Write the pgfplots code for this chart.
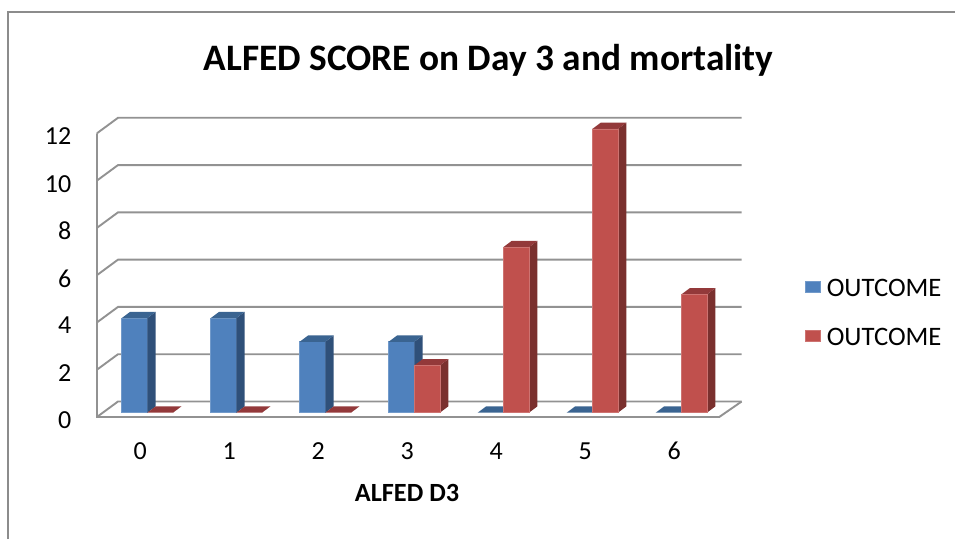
\documentclass[border=0pt]{standalone}
\usepackage{fontspec}
\setmainfont{Carlito}
\usepackage{pgfplots}
\pgfplotsset{compat=1.18}

\definecolor{blueF}{HTML}{4F81BD}
\definecolor{blueS}{HTML}{2F5079}
\definecolor{blueT}{HTML}{3A6491}
\definecolor{redF}{HTML}{C0504D}
\definecolor{redS}{HTML}{7A302E}
\definecolor{redT}{HTML}{93393A}
\definecolor{gridC}{HTML}{929292}
\definecolor{frameC}{HTML}{8C8C8C}

\def\pxu{0.75pt}

% back wall line with its return along the left wall
\newcommand\wallline[1]{%
  \pgfmathsetmacro\yf{#1-0.18}%
  \pgfmathsetmacro\yb{#1+0.474}%
  \addplot[forget plot,no marks,gridC,line width=1.9*\pxu]
    coordinates {(-0.565,\yf) (-0.329,\yb) (6.678,\yb)};
}
% side and top faces of one bar; #1 left edge, #2 value, #3 side, #4 top
\newcommand\barfaces[4]{%
  \pgfmathsetmacro\xr{#1+0.2876}%
  \pgfmathsetmacro\xa{#1+0.0944}%
  \pgfmathsetmacro\xb{#1+0.2876+0.0944}%
  \pgfmathsetmacro\yt{#2+0.2665}%
  \addplot[forget plot,no marks,draw=none,fill=#3]
    coordinates {(\xr,0) (\xb,0.2665) (\xb,\yt) (\xr,#2)} -- cycle;
  \addplot[forget plot,no marks,draw=none,fill=#4]
    coordinates {(#1,#2) (\xa,\yt) (\xb,\yt) (\xr,#2)} -- cycle;
}

\begin{document}
\begin{tikzpicture}
\path[use as bounding box] (-97*\pxu,-126.3*\pxu) rectangle (858*\pxu,412.7*\pxu);
% outer chart frame, open at the bottom and right
\draw[frameC,line width=1.6*\pxu] (-89*\pxu,-126.3*\pxu) -- (-89*\pxu,400.7*\pxu) -- (858*\pxu,400.7*\pxu);
\begin{axis}[
  at={(0,0)},anchor=south west,
  scale only axis,
  width=622*\pxu,height=283.7*\pxu,
  xmin=-0.565,xmax=6.4236,ymin=0,ymax=12,
  clip=false,
  axis line style={draw=none},
  major tick length=0pt,
  xtick={0,1,2,3,4,5,6},
  ytick={0,2,4,6,8,10,12},
  /pgf/number format/assume math mode=true,
  tick label style={font=\fontsize{19.5}{22}\selectfont,text=black},
  xticklabel style={xshift=-7*\pxu,yshift=-28*\pxu,text height=14*\pxu,text depth=0pt},
  yticklabel style={xshift=-21*\pxu,yshift=-7.5*\pxu},
  title={ALFED SCORE on Day 3 and mortality},
  title style={at={(0.6294,1.215)},anchor=center,yshift=0pt,font=\fontsize{28}{32}\selectfont\bfseries},
  xlabel={ALFED D3},
  xlabel style={at={(0.4984,-0.283)},anchor=center,font=\fontsize{19.7}{22}\selectfont\bfseries},
  legend style={at={(1.1383,0.3497)},anchor=west,draw=none,fill=none,
    font=\fontsize{20}{22}\selectfont,inner sep=0pt,outer sep=0pt,
    row sep=24*\pxu},
  legend cell align=left,
  legend image code/.code={\fill[#1] (0,-7.5*\pxu) rectangle (15*\pxu,7.5*\pxu);\path (18.5*\pxu,0);},
]
% walls and floor
\wallline{0}\wallline{2}\wallline{4}\wallline{6}\wallline{8}\wallline{10}\wallline{12}
\addplot[forget plot,no marks,gridC,line width=1.9*\pxu]
  coordinates {(-0.565,11.82) (-0.565,-0.18) (6.427,-0.18) (6.678,0.474)};

% first series
\addplot[ybar,bar width=0.2876,bar shift=-0.1438,fill=blueF,draw=blueF!80!white,line width=0.6*\pxu,
  y filter/.expression={y==0 ? nan : y}]
  coordinates {(0,4) (1,4) (2,3) (3,3) (4,0) (5,0) (6,0)};
\addlegendentry{OUTCOME}
\barfaces{-0.2876}{4}{blueS}{blueT}
\barfaces{0.7124}{4}{blueS}{blueT}
\barfaces{1.7124}{3}{blueS}{blueT}
\barfaces{2.7124}{3}{blueS}{blueT}
\barfaces{3.7124}{0}{blueS}{blueT}
\barfaces{4.7124}{0}{blueS}{blueT}
\barfaces{5.7124}{0}{blueS}{blueT}

% second series
\barfaces{0}{0}{redS}{redT}
\barfaces{1}{0}{redS}{redT}
\barfaces{2}{0}{redS}{redT}
\barfaces{3}{2}{redS}{redT}
\barfaces{4}{7}{redS}{redT}
\barfaces{5}{12}{redS}{redT}
\barfaces{6}{5}{redS}{redT}
\addplot[ybar,bar width=0.2876,bar shift=0.1438,fill=redF,draw=redF!80!white,line width=0.6*\pxu,
  y filter/.expression={y==0 ? nan : y}]
  coordinates {(0,0) (1,0) (2,0) (3,2) (4,7) (5,12) (6,5)};
\addlegendentry{OUTCOME}
\end{axis}
\end{tikzpicture}
\end{document}
